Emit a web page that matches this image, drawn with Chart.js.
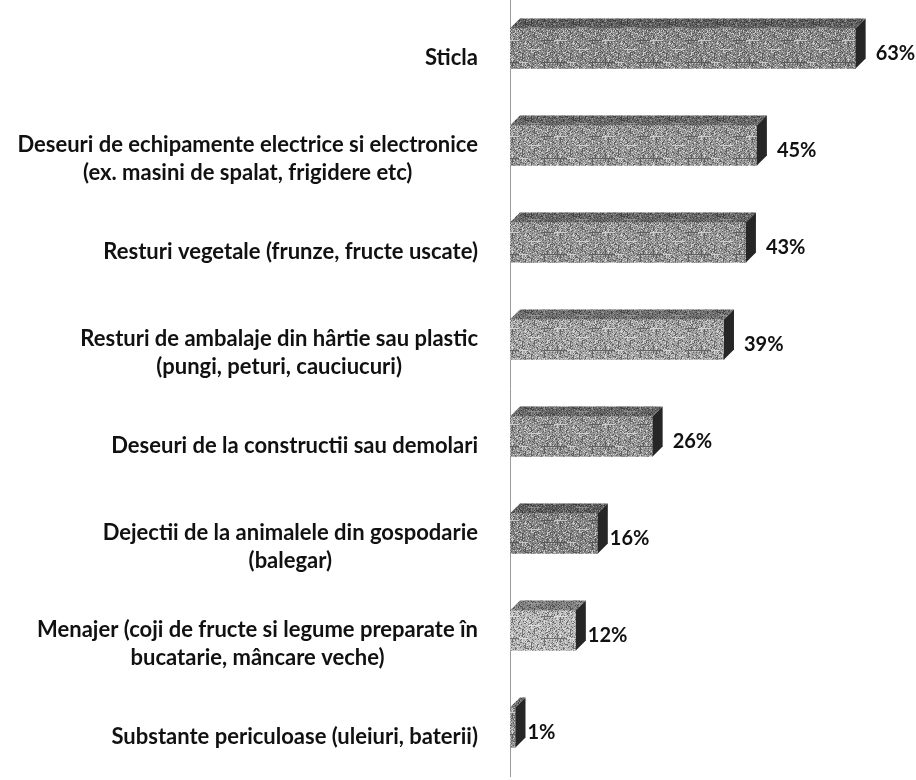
<!DOCTYPE html>
<html>
<head>
<meta charset="utf-8">
<script src="https://cdn.jsdelivr.net/npm/chart.js@4.4.0/dist/chart.umd.min.js"></script>
<style>
  html, body { margin: 0; padding: 0; background: #fff; }
  #wrap { width: 916px; height: 780px; position: relative; }
</style>
</head>
<body>
<div id="wrap"><canvas id="wasteChart"></canvas></div>
<script>
const categories = [
    ['Sticla'],
    ['Deseuri de echipamente electrice si electronice', '(ex. masini de spalat, frigidere etc)'],
    ['Resturi vegetale (frunze, fructe uscate)'],
    ['Resturi de ambalaje din hârtie sau plastic', '(pungi, peturi, cauciucuri)'],
    ['Deseuri de la constructii sau demolari'],
    ['Dejectii de la animalele din gospodarie', '(balegar)'],
    ['Menajer (coji de fructe si legume preparate în', 'bucatarie, mâncare veche)'],
    ['Substante periculoase (uleiuri, baterii)']
];
const percentValues = [63, 45, 43, 39, 26, 16, 12, 1];
const barGreys = ['#8a8a8a', '#979797', '#969696', '#a3a3a3', '#969696', '#868686', '#b8b8b8', '#969696'];

// speckled fill, like the scanned print
function speckle(base) {
    const c = document.createElement('canvas');
    c.width = 48; c.height = 48;
    const g = c.getContext('2d');
    g.fillStyle = base;
    g.fillRect(0, 0, 48, 48);
    for (let y = 0; y < 48; y++) {
        for (let x = 0; x < 48; x++) {
            const h = (x * 73 + y * 151 + ((x * y) % 13) * 29) % 17;
            if (h < 4) { g.fillStyle = 'rgba(40,40,40,0.5)'; g.fillRect(x, y, 1, 1); }
            else if (h > 13) { g.fillStyle = 'rgba(255,255,255,0.55)'; g.fillRect(x, y, 1, 1); }
        }
    }
    return g.createPattern(c, 'repeat');
}

const ctxEl = document.getElementById('wasteChart').getContext('2d');
const patterns = barGreys.map(speckle);

const depth = 10;

const bar3d = {
    id: 'bar3d',
    afterDatasetsDraw(chart) {
        const { ctx } = chart;
        const meta = chart.getDatasetMeta(0);
        meta.data.forEach((bar, i) => {
            const top = bar.y - bar.height / 2;
            const bottom = bar.y + bar.height / 2;
            ctx.save();
            // top face
            ctx.beginPath();
            ctx.moveTo(bar.base, top);
            ctx.lineTo(bar.x, top);
            ctx.lineTo(bar.x + depth, top - depth);
            ctx.lineTo(bar.base + depth, top - depth);
            ctx.closePath();
            ctx.fillStyle = patterns[i];
            ctx.fill();
            ctx.fillStyle = 'rgba(0,0,0,0.3)';
            ctx.fill();
            // side face
            ctx.beginPath();
            ctx.moveTo(bar.x, top);
            ctx.lineTo(bar.x + depth, top - depth);
            ctx.lineTo(bar.x + depth, bottom - depth);
            ctx.lineTo(bar.x, bottom);
            ctx.closePath();
            ctx.fillStyle = '#262626';
            ctx.fill();
            // value label
            ctx.fillStyle = '#111';
            ctx.font = 'bold 20px Lato, "Open Sans", sans-serif';
            ctx.textAlign = 'left';
            ctx.textBaseline = 'middle';
            const gap = percentValues[i] > 20 ? 10 : 2;
            ctx.fillText(percentValues[i] + '%', bar.x + depth + gap, bar.y + 5);
            ctx.restore();
        });
    },
    afterDraw(chart) {
        const { ctx } = chart;
        const yScale = chart.scales.y;
        const rightEdge = 478;
        const lineH = 28;
        ctx.save();
        ctx.font = 'bold 22px Lato, "Open Sans", sans-serif';
        ctx.fillStyle = '#111';
        ctx.textBaseline = 'middle';
        ctx.textAlign = 'center';
        categories.forEach((lines, i) => {
            const cy = yScale.getPixelForValue(i) + 9 + (lines.length - 1) * 4;
            const w = Math.max(...lines.map(l => ctx.measureText(l).width));
            const cx = rightEdge - w / 2;
            const y0 = cy - (lines.length - 1) * lineH / 2;
            lines.forEach((l, k) => ctx.fillText(l, cx, y0 + k * lineH));
        });
        ctx.restore();
    }
};

const wasteChart = new Chart(ctxEl, {
    type: 'bar',
    plugins: [bar3d],
    data: {
        labels: categories,
        datasets: [{
            data: percentValues,
            backgroundColor: patterns,
            borderWidth: 0,
            barThickness: 40
        }]
    },
    options: {
        indexAxis: 'y',
        responsive: true,
        maintainAspectRatio: false,
        animation: false,
        layout: { padding: { top: 0, bottom: 4, left: 0, right: 0 } },
        plugins: {
            legend: { display: false },
            tooltip: { enabled: false }
        },
        scales: {
            x: {
                display: false,
                min: 0,
                max: 74
            },
            y: {
                afterFit: function(scale) { scale.width = 510; },
                ticks: { display: false },
                grid: { display: false },
                border: { display: true, color: '#9a9a9a', width: 1, dash: [2, 2] }
            }
        }
    }
});
</script>
</body>
</html>
